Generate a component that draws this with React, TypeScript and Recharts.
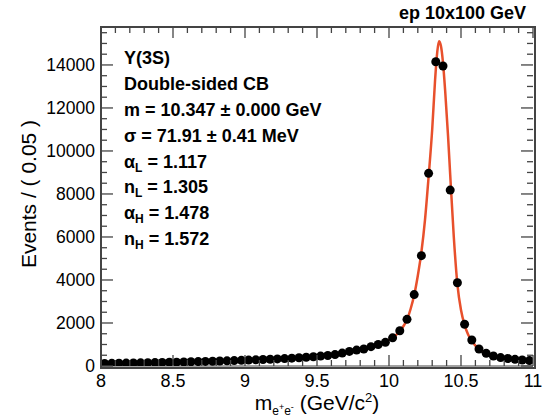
import { ComposedChart, Line, Scatter, XAxis, YAxis } from 'recharts';

// binned mass spectrum, 0.05 GeV bins
const binCenters = [
  8.025, 8.075, 8.125, 8.175, 8.225, 8.275, 8.325, 8.375, 8.425, 8.475,
  8.525, 8.575, 8.625, 8.675, 8.725, 8.775, 8.825, 8.875, 8.925, 8.975,
  9.025, 9.075, 9.125, 9.175, 9.225, 9.275, 9.325, 9.375, 9.425, 9.475,
  9.525, 9.575, 9.625, 9.675, 9.725, 9.775, 9.825, 9.875, 9.925, 9.975,
  10.025, 10.075, 10.125, 10.175, 10.225, 10.275, 10.325, 10.375, 10.425, 10.475,
  10.525, 10.575, 10.625, 10.675, 10.725, 10.775, 10.825, 10.875, 10.925, 10.975,
];
const eventCounts = [
  120, 125, 130, 135, 140, 148, 155, 160, 168, 175,
  180, 188, 195, 205, 212, 220, 230, 240, 250, 262,
  275, 288, 300, 315, 330, 345, 365, 385, 405, 430,
  460, 490, 530, 600, 680, 740, 790, 900, 1000, 1100,
  1310, 1640, 2170, 3320, 5130, 8960, 14150, 13950, 8180, 3870,
  1940, 1210, 790, 590, 465, 390, 350, 310, 280, 250,
];

// double-sided CB fit curve
const fitMass = [
  8.0, 8.25, 8.5, 8.75, 9.0, 9.25, 9.5, 9.6, 9.7, 9.8, 9.85, 9.9, 9.95, 10.0,
  10.05, 10.1, 10.125, 10.15, 10.175, 10.2, 10.225, 10.25, 10.275, 10.3, 10.32,
  10.335, 10.347, 10.36, 10.375, 10.39, 10.41, 10.425, 10.45, 10.475, 10.5,
  10.525, 10.55, 10.6, 10.65, 10.7, 10.75, 10.8, 10.85, 10.9, 10.95, 11.0,
];
const fitValues = [
  115, 140, 175, 215, 265, 335, 440, 510, 610, 750, 830, 930, 1050, 1220,
  1450, 1850, 2150, 2650, 3300, 4200, 5300, 6800, 8800, 11000, 13300,
  14600, 15100, 14900, 14100, 12800, 10700, 8900, 6000, 3800, 2600,
  1900, 1450, 950, 680, 520, 420, 350, 300, 260, 230, 210,
];

const legendLines = [
  'Υ(3S)',
  'Double-sided CB',
  'm = 10.347 ± 0.000 GeV',
  'σ = 71.91 ± 0.41 MeV',
  'αL = 1.117',
  'nL = 1.305',
  'αH = 1.478',
  'nH = 1.572',
];

const font = '"Liberation Sans", Arial, Helvetica, sans-serif';
const axisColor = '#444';
const fitColor = '#e8502c';
const xMin = 8;
const xMax = 11;
const yMax = 15765;

// plot box in the 551x419 picture
const box = { left: 101, top: 27, right: 533, bottom: 366 };

const points = binCenters.map((x, i) => ({ x, y: eventCounts[i] }));
const curve = fitMass.map((x, i) => ({ x, y: fitValues[i] }));

const xTicks = Array.from({ length: 31 }, (_, i) => Math.round((8 + i * 0.1) * 10) / 10);
const yTicks = Array.from({ length: 32 }, (_, i) => i * 500);

const isMajorX = (v: number) => Math.abs(v * 2 - Math.round(v * 2)) < 1e-6;
const isMajorY = (v: number) => v % 2000 === 0;

const px = (v: number) => box.left + ((v - xMin) / (xMax - xMin)) * (box.right - box.left);
const py = (v: number) => box.bottom - (v / yMax) * (box.bottom - box.top);

const BottomTick = ({ x, y, payload }: any) =>
  isMajorX(payload.value) ? (
    <text x={x} y={y + 21} textAnchor="middle" fontSize={18} fontFamily={font} fill="#000">
      {payload.value}
    </text>
  ) : (
    <g />
  );

const LeftTick = ({ x, y, payload }: any) =>
  isMajorY(payload.value) ? (
    <text x={x - 6} y={y} dy="0.35em" textAnchor="end" fontSize={17.5} fontFamily={font} fill="#000">
      {payload.value}
    </text>
  ) : (
    <g />
  );

const Dot = (props: any) => <circle cx={props.cx} cy={props.cy} r={4.5} fill="#000" />;

const LegendLine = ({ text }: { text: string }) => {
  const m = text.match(/^([ασn])([LH]) (.*)$/);
  if (m) {
    return (
      <span>
        {m[1]}
        <sub style={{ fontSize: 12, verticalAlign: -4, lineHeight: 0 }}>{m[2]}</sub> {m[3]}
      </span>
    );
  }
  return <span>{text}</span>;
};

// ROOT-style frame: box with inward ticks on all four sides
const Frame = () => (
  <>
    <div
      style={{
        position: 'absolute',
        left: box.left - 1,
        top: box.top - 1,
        width: box.right - box.left,
        height: box.bottom - box.top,
        border: `2px solid ${axisColor}`,
        pointerEvents: 'none',
      }}
    />
    <svg width={551} height={419} style={{ position: 'absolute', left: 0, top: 0, pointerEvents: 'none' }}>
      {xTicks.map((v) => {
        const len = isMajorX(v) ? 11 : 6;
        return (
          <g key={'x' + v}>
            <line x1={px(v)} y1={box.bottom} x2={px(v)} y2={box.bottom - len} stroke={axisColor} strokeWidth={1.3} />
            <line x1={px(v)} y1={box.top} x2={px(v)} y2={box.top + len} stroke={axisColor} strokeWidth={1.3} />
          </g>
        );
      })}
      {yTicks.map((v) => {
        const len = isMajorY(v) ? 12 : 6;
        return (
          <g key={'y' + v}>
            <line x1={box.left} y1={py(v)} x2={box.left + len} y2={py(v)} stroke={axisColor} strokeWidth={1.3} />
            <line x1={box.right} y1={py(v)} x2={box.right - len} y2={py(v)} stroke={axisColor} strokeWidth={1.3} />
          </g>
        );
      })}
    </svg>
  </>
);

export default function App() {
  return (
    <div style={{ position: 'absolute', left: 0, top: 0, width: 551, height: 419, background: '#fff', fontFamily: font }}>
      <div style={{ position: 'absolute', left: 0, top: 0 }}>
        <ComposedChart width={551} height={419} margin={{ top: box.top, right: 551 - box.right, bottom: 0, left: 0 }}>
          <XAxis
            dataKey="x"
            type="number"
            domain={[xMin, xMax]}
            ticks={xTicks}
            interval={0}
            height={419 - box.bottom}
            tickSize={0}
            tickMargin={0}
            tickLine={false}
            tick={<BottomTick />}
            stroke={axisColor}
            allowDataOverflow
          />
          <YAxis
            type="number"
            domain={[0, yMax]}
            ticks={yTicks}
            interval={0}
            width={box.left}
            tickSize={0}
            tickMargin={0}
            tickLine={false}
            tick={<LeftTick />}
            stroke={axisColor}
            allowDataOverflow
          />
          <Scatter data={points} dataKey="y" shape={<Dot />} isAnimationActive={false} />
          <Line
            data={curve}
            dataKey="y"
            type="monotone"
            stroke={fitColor}
            strokeWidth={2.5}
            dot={false}
            activeDot={false}
            isAnimationActive={false}
          />
        </ComposedChart>
      </div>
      <Frame />

      <div style={{ position: 'absolute', right: 25, top: 3, fontSize: 18, fontWeight: 'bold' }}>ep 10x100 GeV</div>

      <div style={{ position: 'absolute', left: 124, top: 46, fontSize: 18, fontWeight: 'bold' }}>
        {legendLines.map((t) => (
          <div key={t} style={{ height: 25.9, lineHeight: '25.9px', whiteSpace: 'nowrap' }}>
            <LegendLine text={t} />
          </div>
        ))}
      </div>

      <div
        style={{
          position: 'absolute',
          left: 29,
          top: 194,
          transform: 'translate(-50%, -50%) rotate(-90deg)',
          fontSize: 21,
          whiteSpace: 'nowrap',
        }}
      >
        Events / ( 0.05 )
      </div>

      <div style={{ position: 'absolute', left: 317, top: 391, transform: 'translateX(-50%)', fontSize: 21, whiteSpace: 'nowrap' }}>
        m<sub style={{ fontSize: 12, verticalAlign: -5, lineHeight: 0 }}>e<sup style={{ fontSize: 9 }}>+</sup>e<sup style={{ fontSize: 9 }}>-</sup></sub>{' '}
        (GeV/c<sup style={{ fontSize: 13, verticalAlign: 8, lineHeight: 0 }}>2</sup>)
      </div>
    </div>
  );
}
